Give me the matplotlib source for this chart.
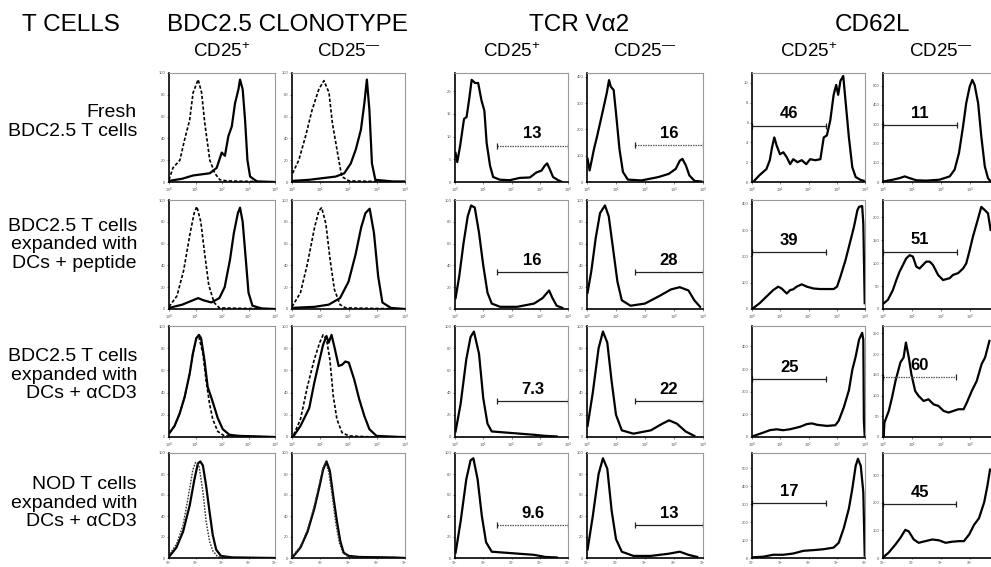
import matplotlib
matplotlib.use('Agg')
import matplotlib.pyplot as plt
from matplotlib.ticker import MultipleLocator

plt.rcParams['font.family'] = ['Liberation Sans', 'DejaVu Sans']
plt.rcParams['mathtext.fontset'] = 'custom'
plt.rcParams['mathtext.rm'] = 'Liberation Sans'
plt.rcParams['mathtext.it'] = 'Liberation Sans:italic'

### data: (log10 fluorescence, events) ###

# BDC2.5 clonotype, solid = clonotype stain, dashed = control
fresh_clono_pos = [(0.0, 1), (0.5, 3), (0.91, 6), (1.54, 8), (1.80, 13), (1.99, 27), (2.11, 24), (2.24, 42),
                   (2.37, 51), (2.49, 72), (2.62, 85), (2.68, 94), (2.78, 85), (2.87, 57), (2.96, 20),
                   (3.06, 5), (3.32, 0.5), (4.0, 0)]
fresh_clono_pos_ctrl = [(0.0, 2), (0.15, 13), (0.41, 20), (0.59, 39), (0.78, 57), (0.91, 82), (1.10, 94),
                        (1.23, 82), (1.35, 54), (1.54, 20), (1.73, 8), (1.92, 2), (2.18, 1), (4.0, 0)]
fresh_clono_neg = [(0.0, 1), (0.6, 2), (1.55, 5), (1.85, 8), (2.08, 17), (2.26, 30), (2.44, 48), (2.56, 72),
                   (2.65, 94), (2.74, 66), (2.83, 17), (2.95, 2), (3.57, 0.5), (4.0, 0.5)]
fresh_clono_neg_ctrl = [(0.02, 8), (0.24, 20), (0.48, 42), (0.71, 66), (0.95, 85), (1.13, 93), (1.31, 82),
                        (1.43, 54), (1.61, 27), (1.76, 5), (2.02, 1), (4.0, 0)]

pep_clono_pos = [(0.0, 1), (0.5, 4), (0.9, 8), (1.1, 10), (1.3, 8), (1.6, 6), (1.9, 10), (2.1, 20), (2.3, 45),
                 (2.45, 70), (2.6, 88), (2.68, 93), (2.78, 80), (2.9, 45), (3.0, 15), (3.15, 3), (3.5, 0.5),
                 (4.0, 0)]
pep_clono_pos_ctrl = [(0.0, 2), (0.3, 12), (0.55, 35), (0.8, 70), (0.95, 88), (1.05, 94), (1.2, 80),
                      (1.35, 50), (1.5, 22), (1.7, 6), (1.9, 1), (4.0, 0)]
pep_clono_neg = [(0.0, 1), (0.8, 2), (1.3, 4), (1.7, 10), (2.0, 25), (2.25, 50), (2.45, 75), (2.6, 88),
                 (2.75, 92), (2.9, 70), (3.05, 30), (3.2, 6), (3.5, 1), (4.0, 0)]
pep_clono_neg_ctrl = [(0.0, 2), (0.3, 15), (0.55, 42), (0.8, 75), (0.95, 90), (1.05, 93), (1.2, 78),
                      (1.35, 45), (1.5, 18), (1.7, 4), (1.9, 1), (4.0, 0)]

acd3_clono_pos = [(0.03, 4), (0.21, 10), (0.40, 21), (0.59, 36), (0.78, 57), (0.90, 75), (1.03, 89),
                  (1.13, 92), (1.21, 89), (1.34, 69), (1.46, 45), (1.59, 36), (1.71, 27), (1.84, 17),
                  (2.03, 7), (2.28, 2), (2.65, 1), (4.0, 0)]
acd3_clono_pos_ctrl = [(0.03, 4), (0.21, 10), (0.40, 21), (0.59, 36), (0.78, 57), (0.90, 75), (1.03, 89),
                       (1.13, 90), (1.28, 75), (1.40, 51), (1.53, 30), (1.65, 16), (1.84, 5), (2.09, 1),
                       (4.0, 0)]
acd3_clono_neg = [(0.06, 1), (0.30, 10), (0.61, 26), (0.79, 49), (0.98, 70), (1.10, 83), (1.22, 91),
                  (1.30, 85), (1.40, 92), (1.52, 79), (1.65, 64), (1.77, 65), (1.89, 68), (2.01, 67),
                  (2.20, 52), (2.38, 34), (2.56, 19), (2.74, 7), (2.99, 1), (3.84, 0), (4.0, 0)]
acd3_clono_neg_ctrl = [(0.06, 2), (0.30, 16), (0.55, 46), (0.79, 70), (0.98, 85), (1.10, 92), (1.22, 88),
                       (1.34, 70), (1.46, 37), (1.59, 16), (1.77, 4), (2.01, 1), (2.87, 0), (4.0, 0)]

nod_clono_pos = [(0.03, 2), (0.28, 10), (0.53, 25), (0.78, 50), (0.96, 75), (1.09, 90), (1.18, 92),
                 (1.28, 88), (1.40, 69), (1.53, 44), (1.65, 22), (1.78, 8), (1.96, 2), (2.40, 0.5), (4.0, 0)]
nod_clono_pos_ctrl = [(0.03, 4), (0.28, 13), (0.53, 31), (0.71, 56), (0.90, 84), (1.00, 91), (1.13, 88),
                      (1.28, 63), (1.40, 35), (1.53, 16), (1.65, 7), (1.84, 1), (4.0, 0)]
nod_clono_neg = [(0.06, 2), (0.30, 10), (0.55, 25), (0.79, 47), (0.98, 69), (1.10, 84), (1.22, 92),
                 (1.34, 83), (1.46, 59), (1.59, 35), (1.71, 16), (1.83, 5), (2.01, 2), (2.38, 1),
                 (3.60, 0.5), (4.0, 0)]
nod_clono_neg_ctrl = [(0.06, 3), (0.30, 11), (0.55, 27), (0.79, 50), (0.98, 72), (1.10, 86), (1.19, 91),
                      (1.30, 82), (1.43, 58), (1.55, 33), (1.68, 14), (1.80, 5), (2.0, 1), (4.0, 0)]

# TCR Va2
fresh_va2_pos = [(0.02, 6.4), (0.08, 4.4), (0.18, 7.9), (0.32, 13.9), (0.41, 14.3), (0.51, 18.6),
                 (0.59, 22.5), (0.71, 21.8), (0.82, 21.8), (0.94, 17.9), (1.04, 15.7), (1.12, 8.6),
                 (1.24, 3.6), (1.35, 1.1), (1.59, 0.5), (1.94, 0.4), (2.29, 0.9), (2.65, 1.0), (2.88, 2.1),
                 (3.06, 2.5), (3.18, 3.6), (3.26, 4.1), (3.35, 2.9), (3.47, 1.1), (3.65, 0.4), (3.76, 0.1)]
fresh_va2_neg = [(0.02, 88), (0.09, 44), (0.24, 125), (0.35, 175), (0.53, 263), (0.68, 338), (0.76, 388),
                 (0.82, 363), (0.92, 350), (1.00, 263), (1.12, 125), (1.24, 38), (1.41, 9), (1.88, 6),
                 (2.47, 19), (2.82, 31), (3.06, 50), (3.20, 81), (3.29, 88), (3.41, 63), (3.53, 25),
                 (3.71, 4), (3.94, 2)]
pep_va2_pos = [(0.02, 10), (0.15, 30), (0.3, 60), (0.45, 85), (0.57, 95), (0.7, 93), (0.85, 70), (1.0, 40),
               (1.15, 15), (1.3, 5), (1.6, 2), (2.2, 2), (2.8, 5), (3.1, 10), (3.33, 17), (3.45, 10),
               (3.6, 3), (3.8, 1)]
pep_va2_neg = [(0.02, 15), (0.15, 35), (0.3, 65), (0.45, 88), (0.62, 95), (0.75, 85), (0.9, 55), (1.05, 25),
               (1.2, 8), (1.5, 3), (2.0, 5), (2.5, 12), (2.9, 18), (3.2, 20), (3.5, 17), (3.7, 8), (3.9, 2)]
acd3_va2_pos = [(0.02, 5), (0.2, 30), (0.4, 70), (0.55, 90), (0.67, 95), (0.85, 75), (1.0, 35), (1.15, 12),
                (1.3, 5), (1.8, 4), (2.3, 3), (2.8, 2), (3.2, 1), (3.6, 0.5)]
acd3_va2_neg = [(0.02, 10), (0.2, 40), (0.4, 80), (0.55, 95), (0.7, 85), (0.85, 50), (1.0, 20), (1.2, 6),
                (1.6, 3), (2.2, 6), (2.6, 12), (2.83, 15), (3.1, 12), (3.4, 5), (3.7, 1)]
nod_va2_pos = [(0.02, 5), (0.2, 35), (0.4, 75), (0.55, 93), (0.65, 95), (0.8, 75), (0.95, 40), (1.1, 15),
               (1.3, 6), (1.8, 5), (2.3, 4), (2.8, 3), (3.2, 1), (3.6, 0.5)]
nod_va2_neg = [(0.02, 8), (0.2, 40), (0.4, 80), (0.55, 95), (0.7, 85), (0.85, 45), (1.0, 18), (1.2, 6),
               (1.6, 2), (2.2, 2), (2.8, 4), (3.2, 6), (3.5, 3), (3.8, 1)]

# CD62L
fresh_cd62l_pos = [(0.04, 0), (0.27, 0.7), (0.51, 1.3), (0.63, 2.2), (0.71, 3.5), (0.79, 4.5), (0.87, 3.7),
                   (0.99, 2.8), (1.11, 3.0), (1.23, 2.5), (1.35, 1.8), (1.46, 2.3), (1.61, 2.0), (1.76, 2.2),
                   (1.92, 1.8), (2.06, 2.3), (2.24, 2.2), (2.42, 2.3), (2.54, 4.5), (2.65, 4.7), (2.77, 6.2),
                   (2.89, 8.8), (2.98, 9.8), (3.05, 8.8), (3.13, 10.2), (3.23, 10.7), (3.31, 8.2),
                   (3.43, 4.5), (3.55, 1.5), (3.67, 0.5), (3.85, 0.2), (3.99, 0.1)]
fresh_cd62l_neg = [(0.02, 3), (0.34, 12), (0.57, 20), (0.75, 29), (0.92, 20), (1.15, 9), (1.49, 7),
                   (1.95, 12), (2.30, 29), (2.47, 64), (2.62, 150), (2.76, 288), (2.87, 409), (2.99, 495),
                   (3.08, 529), (3.16, 503), (3.28, 409), (3.39, 236), (3.51, 81), (3.62, 20), (3.71, 3),
                   (4.0, 0)]
pep_cd62l_pos = [(0.04, 3), (0.27, 22), (0.51, 47), (0.75, 72), (0.93, 85), (1.05, 78), (1.23, 59),
                 (1.35, 72), (1.46, 75), (1.58, 85), (1.76, 94), (1.94, 85), (2.18, 78), (2.42, 76),
                 (2.65, 76), (2.89, 76), (3.01, 85), (3.13, 123), (3.31, 186), (3.49, 262), (3.61, 313),
                 (3.73, 376), (3.79, 389), (3.90, 392), (3.94, 325), (3.99, 22)]
pep_cd62l_neg = [(0.02, 12), (0.17, 20), (0.34, 41), (0.46, 63), (0.57, 81), (0.69, 96), (0.80, 110),
                 (0.92, 117), (1.03, 114), (1.15, 92), (1.26, 88), (1.38, 96), (1.49, 103), (1.61, 103),
                 (1.72, 96), (1.90, 74), (2.07, 63), (2.30, 67), (2.41, 74), (2.59, 78), (2.76, 88),
                 (2.87, 99), (2.99, 128), (3.10, 157), (3.28, 197), (3.39, 222), (3.51, 215), (3.62, 208),
                 (3.71, 172)]
acd3_cd62l_pos = [(0.04, 4), (0.39, 19), (0.63, 30), (0.87, 34), (1.10, 30), (1.34, 34), (1.70, 45),
                  (1.94, 57), (2.12, 60), (2.30, 54), (2.65, 49), (2.95, 52), (3.07, 72), (3.25, 131),
                  (3.43, 206), (3.55, 296), (3.67, 355), (3.79, 430), (3.90, 460), (3.94, 430), (3.96, 72),
                  (3.99, 4)]
acd3_cd62l_neg = [(0.0, 15), (0.02, 0), (0.05, 35), (0.20, 63), (0.31, 95), (0.43, 135), (0.60, 180),
                  (0.71, 192), (0.79, 228), (0.89, 192), (0.98, 151), (1.11, 111), (1.23, 99), (1.40, 87),
                  (1.57, 91), (1.74, 79), (1.91, 75), (2.09, 63), (2.26, 59), (2.43, 63), (2.60, 67),
                  (2.78, 67), (2.89, 83), (3.06, 111), (3.23, 135), (3.40, 176), (3.52, 192), (3.67, 232)]
nod_cd62l_pos = [(0.04, 4), (0.39, 7), (0.75, 18), (1.11, 18), (1.46, 25), (1.82, 40), (2.18, 44),
                 (2.54, 49), (2.89, 58), (3.07, 85), (3.25, 167), (3.43, 276), (3.55, 385), (3.67, 513),
                 (3.75, 553), (3.85, 513), (3.94, 367), (3.99, 13)]
nod_cd62l_neg = [(0.0, 2), (0.20, 20), (0.43, 49), (0.60, 73), (0.77, 102), (0.89, 96), (1.06, 67),
                 (1.23, 55), (1.46, 61), (1.70, 67), (1.93, 64), (2.16, 55), (2.39, 59), (2.62, 61),
                 (2.79, 61), (2.97, 85), (3.14, 120), (3.31, 144), (3.49, 202), (3.60, 261), (3.69, 320)]

# gates: percent shown, gate start/end (decades), gate height (events)
va2_pct = [[13, 16], [16, 28], [7.3, 22], [9.6, 13]]
va2_gate_from = [[1.5, 1.65], [1.5, 1.65], [1.5, 1.65], [1.5, 1.65]]
va2_gate_y = [[8.0, 140], [34, 34], [32, 32], [31, 31]]
cd62l_pct = [[46, 11], [39, 51], [25, 60], [17, 45]]
cd62l_gate_to = [[2.63, 2.55], [2.63, 2.55], [2.63, 2.52], [2.63, 2.52]]
cd62l_gate_y = [[5.7, 297], [218, 125], [254, 144], [304, 196]]

# y-axis tops and tick steps, per row then column
y_max = [[100, 100, 24, 415, 11, 565],
         [100, 100, 100, 100, 415, 237],
         [100, 100, 100, 100, 490, 268],
         [100, 100, 100, 100, 585, 380]]
y_step = [[20, 20, 5, 100, 2, 100],
          [20, 20, 20, 20, 100, 50],
          [20, 20, 20, 20, 100, 50],
          [20, 20, 20, 20, 100, 100]]

row_labels = ['Fresh\nBDC2.5 T cells',
              'BDC2.5 T cells\nexpanded with\nDCs + peptide',
              'BDC2.5 T cells\nexpanded with\nDCs + \u03b1CD3',
              'NOD T cells\nexpanded with\nDCs + \u03b1CD3']
group_titles = ['BDC2.5 CLONOTYPE', 'TCR V\u03b12', 'CD62L']
sub_titles = ['CD25$^{+}$', 'CD25$^{\u2014}$'] * 3

rows = ['fresh', 'pep', 'acd3', 'nod']
markers = ['clono', 'va2', 'cd62l']
sides = ['pos', 'neg']

### layout (pixels of the 991x567 original) ###
W, H = 991, 567
col_px = [(169, 275), (292, 405), (455, 568), (587, 703), (752, 865), (883, 999)]
row_px = [(73, 182), (200, 309), (326, 437), (453, 558)]
row_label_y = [122, 245, 375, 503]
# which gate lines are printed dotted in the scan
va2_dotted = [[True, True], [False, False], [False, False], [True, False]]
cd62l_dotted = [[False, False], [False, False], [False, True], [False, False]]

fig = plt.figure(figsize=(W / 100, H / 100), dpi=100)


def draw_gate(ax, x0, x1, y, pct, dotted):
    ax.plot([x0, x1], [y, y], color='#555555' if dotted else '#222222', lw=0.9,
            ls=(0, (1.2, 0.8)) if dotted else '-', solid_capstyle='butt')
    ax.plot([x0, x1], [y, y], ls='none', marker='|', ms=4, mew=0.9, color='#222222')
    ax.annotate(str(pct), xy=((x0 + x1) / 2, y), xytext=(0, 3), textcoords='offset points',
                ha='center', va='bottom', fontsize=12, fontweight='bold',
                family=['Liberation Sans Narrow', 'Liberation Sans'])


for r, row in enumerate(rows):
    for c in range(6):
        m = markers[c // 2]
        s = sides[c % 2]
        x0, x1 = col_px[c]
        y0, y1 = row_px[r]
        ax = fig.add_axes([x0 / W, 1 - y1 / H, (x1 - x0) / W, (y1 - y0) / H])

        data = globals()[row + '_' + m + '_' + s]
        ax.plot([p[0] for p in data], [p[1] for p in data], color='black', lw=1.6)
        if m == 'clono':
            ctrl = globals()[row + '_' + m + '_' + s + '_ctrl']
            if row == 'nod':
                ax.plot([p[0] for p in ctrl], [p[1] for p in ctrl], color='#333333', lw=1.0, ls=(0, (1.2, 1)))
            else:
                ax.plot([p[0] for p in ctrl], [p[1] for p in ctrl], color='black', lw=1.2, ls=(0, (2, 1.2)))

        ax.set_xlim(0, 4)
        ax.set_ylim(0, y_max[r][c])
        nx = 4 if c == 5 else 5   # last decade of the right column falls off the page
        ax.set_xticks(range(nx))
        ax.set_xticklabels(['$10^{%d}$' % k for k in range(nx)])
        ax.yaxis.set_major_locator(MultipleLocator(y_step[r][c]))
        ax.tick_params(labelsize=3, length=1.5, width=0.5, pad=1, colors='#555555')
        if r == 3:
            ax.tick_params(axis='x', labelsize=2.5, length=1, pad=0.4)

        for sp in ['left', 'bottom']:
            ax.spines[sp].set_linewidth(1.2)
            ax.spines[sp].set_color('black')
        for sp in ['top', 'right']:
            ax.spines[sp].set_linewidth(0.8)
            ax.spines[sp].set_color('#999999')

        if m == 'va2':
            g0 = va2_gate_from[r][c % 2]
            draw_gate(ax, g0, 4.0, va2_gate_y[r][c % 2], va2_pct[r][c % 2], va2_dotted[r][c % 2])
        elif m == 'cd62l':
            g1 = cd62l_gate_to[r][c % 2]
            draw_gate(ax, 0.0, g1, cd62l_gate_y[r][c % 2], cd62l_pct[r][c % 2], cd62l_dotted[r][c % 2])

# headers
fig.text(22 / W, 1 - 25 / H, 'T CELLS', ha='left', va='center', fontsize=17.5)
for k, title in enumerate(group_titles):
    cx = (col_px[2 * k][0] + col_px[2 * k + 1][1]) / 2
    if k == 2:
        cx = 873
    fig.text(cx / W, 1 - 25 / H, title, ha='center', va='center', fontsize=17.5)
for c, sub in enumerate(sub_titles):
    cx = (col_px[c][0] + col_px[c][1]) / 2
    fig.text(cx / W, 1 - 52 / H, sub, ha='center', va='center', fontsize=13.5)

for r, lab in enumerate(row_labels):
    fig.text(137 / W, 1 - row_label_y[r] / H, lab, ha='right', va='center', fontsize=14,
             linespacing=1.12, multialignment='right')

fig.savefig('out.png', dpi=100)
